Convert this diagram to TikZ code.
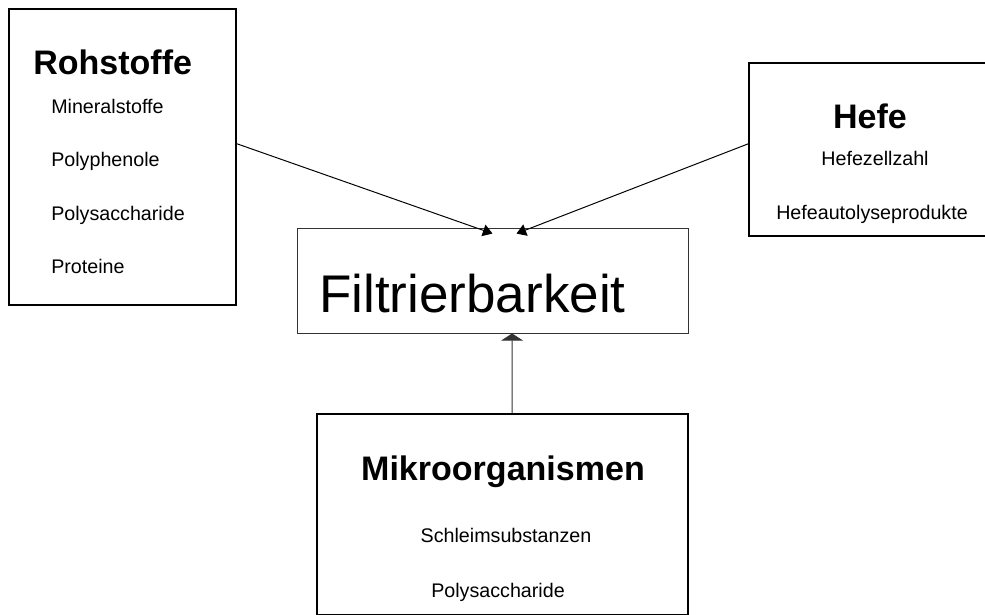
\documentclass[tikz,border=0pt]{standalone}
\usepackage{fontspec}
\setmainfont{Liberation Sans}
\usetikzlibrary{arrows.meta}

\tikzset{
	kasten/.style={draw, line width=1.4pt, rectangle, inner sep=0pt},
	kastenduenn/.style={draw=black!80, line width=0.6pt, rectangle, inner sep=0pt},
	titel/.style={inner sep=0pt, font=\fontsize{24.2}{28}\selectfont\bfseries},
	eintrag/.style={inner sep=0pt, font=\fontsize{14}{17}\selectfont},
	pfeil/.style={line width=0.7pt, -{Triangle[width=0.3cm, length=0.24cm]}},
}

\begin{document}
\begin{tikzpicture}[x=0.025cm, y=-0.025cm]

	\useasboundingbox (0,0) rectangle (985,614);

	% Kaesten
	\node[kasten, minimum width=5.675cm, minimum height=7.4cm] (rohstoffe) at (122.5,157) {};
	\node[kasten, minimum width=6.15cm, minimum height=4.325cm] (hefe) at (872,149.5) {};
	\node[kastenduenn, minimum width=9.775cm, minimum height=2.625cm] (filtrierbarkeit) at (492.5,280.5) {};
	\node[kasten, minimum width=9.275cm, minimum height=5.02cm] (mikro) at (502.5,514.4) {};

	% Rohstoffe
	\node[titel, anchor=base west] (rohTitel) at (33,74) {Rohstoffe};
	\node[eintrag, anchor=base west] (roh1) at (51,113) {Mineralstoffe};
	\node[eintrag, anchor=base west] (roh2) at (51,166) {Polyphenole};
	\node[eintrag, anchor=base west] (roh3) at (51,220) {Polysaccharide};
	\node[eintrag, anchor=base west] (roh4) at (51,273) {Proteine};

	% Hefe
	\node[titel, anchor=base] (hefeTitel) at (870,128) {Hefe};
	\node[eintrag, anchor=base] (hefe1) at (875,165) {Hefezellzahl};
	\node[eintrag, anchor=base] (hefe2) at (872,219) {Hefeautolyseprodukte};

	% Filtrierbarkeit
	\node[inner sep=0pt, anchor=base west, font=\fontsize{37.7}{42}\selectfont] (filtText) at (319,312) {Filtrierbarkeit};

	% Mikroorganismen
	\node[titel, anchor=base] (mikroTitel) at (503,480) {Mikroorganismen};
	\node[eintrag, anchor=base] (mikro1) at (506,542) {Schleimsubstanzen};
	\node[eintrag, anchor=base] (mikro2) at (498,597) {Polysaccharide};

	% Pfeile
	\draw[pfeil] ([yshift=0.33cm]rohstoffe.east) -- ([yshift=-0.15cm]filtrierbarkeit.north);
	\draw[pfeil] ([yshift=0.14cm]hefe.west) -- ([xshift=0.6cm, yshift=-0.15cm]filtrierbarkeit.north);
	\draw[line width=0.7pt, black!80, -{Triangle[width=0.55cm, length=0.18cm]}] ([xshift=0.24cm]mikro.north) -- ([xshift=0.49cm]filtrierbarkeit.south);

\end{tikzpicture}
\end{document}
